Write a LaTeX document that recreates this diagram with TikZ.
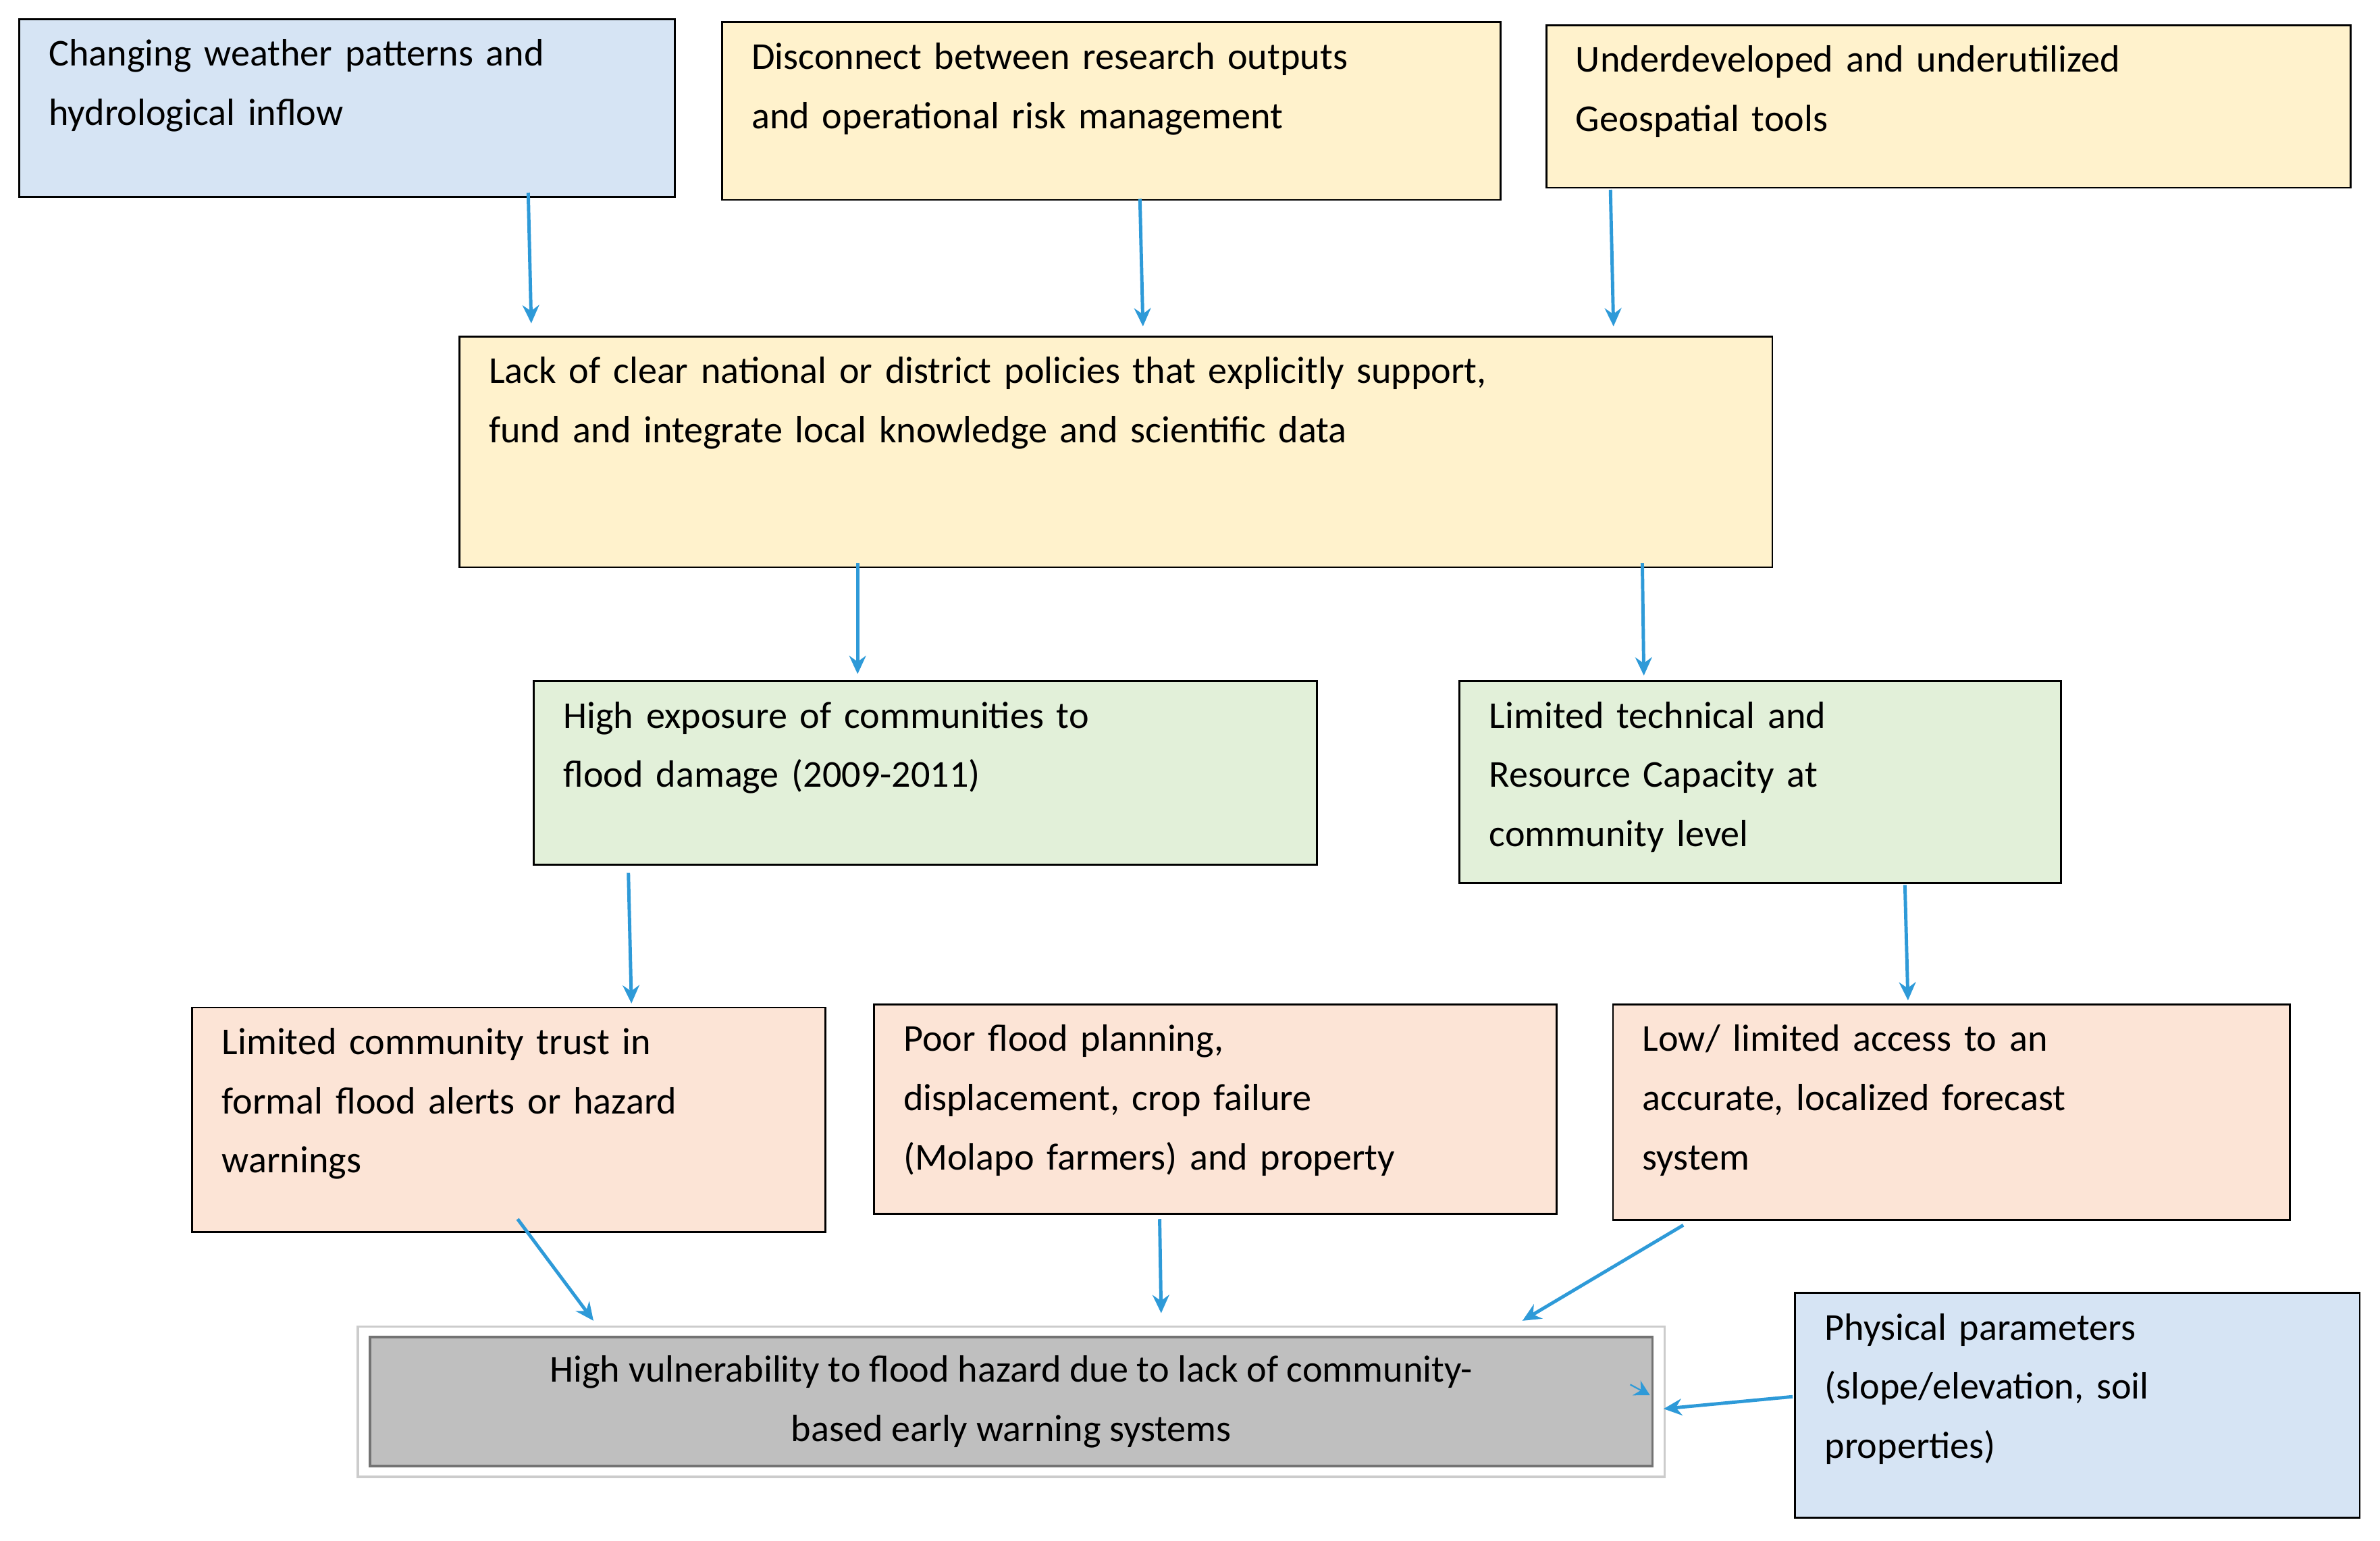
\documentclass[tikz,border=0pt]{standalone}
\usepackage{fontspec}
\setmainfont{Carlito}
\usetikzlibrary{calc,arrows.meta}
\definecolor{cb}{HTML}{D6E4F4}
\definecolor{cy}{HTML}{FFF2CC}
\definecolor{cg}{HTML}{E2F0D9}
\definecolor{co}{HTML}{FCE4D6}
\definecolor{cgr}{HTML}{BFBFBF}
\definecolor{arr}{HTML}{2E9AD8}
\begin{document}
\begin{tikzpicture}[x=1pt,y=-1pt,
  box/.style={draw=black,line width=1.3pt,anchor=north west,inner sep=0pt},
  txt/.style={anchor=north west,align=left,inner sep=0pt,font=\fontsize{25}{39}\selectfont},
  ar/.style={draw=arr,line width=2.2pt,-{Stealth[length=12pt,width=11pt]}}]
\useasboundingbox (0,0) rectangle (1568,1015);
\newcommand{\bx}[7]{% name,x,y,w,h,color,text
  \node[box,fill=#6,minimum width=#4pt,minimum height=#5pt] (#1) at (#2,#3) {};
  \node[txt,text width=#4pt-30pt] (#1t) at ($(#1.north west)+(20pt,-14pt)$) {#7};}
\bx{a}{12}{12}{432}{117}{cb}{Changing weather patterns and\\hydrological inflow}
\bx{b}{475}{14}{513}{117}{cy}{Disconnect between research outputs\\and operational risk management}
\bx{c}{1018}{16}{530}{107}{cy}{Underdeveloped and underutilized\\Geospatial tools}
\bx{d}{302}{221}{865}{152}{cy}{Lack of clear national or district policies that explicitly support,\\fund and integrate local knowledge and scientific data}
\bx{e}{351}{448}{516}{121}{cg}{High exposure of communities to\\flood damage (2009-2011)}
\bx{f}{961}{448}{396}{133}{cg}{Limited technical and\\Resource Capacity at\\community level}
\bx{g}{126}{663}{417}{148}{co}{Limited community trust in\\formal flood alerts or hazard\\warnings}
\bx{h}{575}{661}{450}{138}{co}{Poor flood planning,\\displacement, crop failure\\(Molapo farmers) and property}
\bx{i}{1062}{661}{446}{142}{co}{Low/ limited access to an\\accurate, localized forecast\\system}
\bx{k}{1182}{851}{372}{148}{cb}{Physical parameters\\(slope/elevation, soil\\properties)}
\node[anchor=north west,draw=black!20,line width=1.5pt,fill=white,minimum width=861pt,minimum height=99pt,inner sep=0pt] (jo) at (235,873) {};
\node[anchor=north west,draw=black!55,line width=1.5pt,fill=cgr,minimum width=845pt,minimum height=85pt,inner sep=0pt,align=center,font=\fontsize{25}{39}\selectfont] (j) at (243,880) {High vulnerability to flood hazard due to lack of community-\\based early warning systems};
\foreach \n/\p in {a1/{348,127},a2/{350,213},b1/{751,131},b2/{753,215},c1/{1061,125},c2/{1063,215},
 d1/{565,371},d2/{565,444},d3/{1082,371},d4/{1083,445},e1/{414,575},e2/{416,661},f1/{1255,583},f2/{1257,659},
 g1/{341,803},g2/{391,870},h1/{764,803},h2/{765,865},i1/{1109,807},i2/{1003,870},k1/{1181,920},k2/{1096,928},
 j1/{1074,912},j2/{1087,919}}
  \coordinate (\n) at (\p);
\foreach \s/\t in {a1/a2,b1/b2,c1/c2,d1/d2,d3/d4,e1/e2,f1/f2,g1/g2,h1/h2,i1/i2,k1/k2}
  \draw[ar] (\s) -- (\t);
\draw[draw=arr,line width=1pt,-{Stealth[length=10pt,width=11pt]}] (j1) -- (j2);
\end{tikzpicture}
\end{document}
